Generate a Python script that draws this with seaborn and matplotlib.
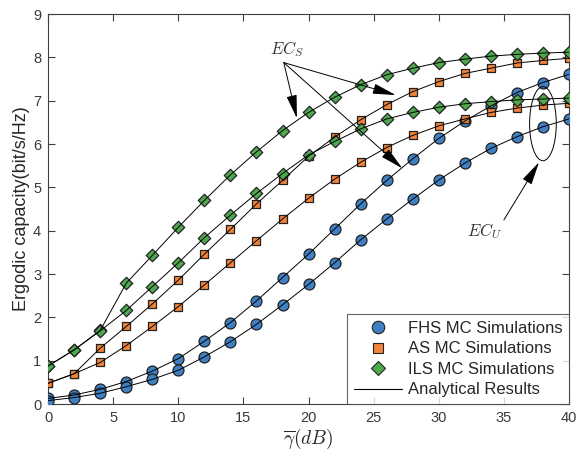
import numpy as np
import pandas as pd
import matplotlib
matplotlib.use("Agg")
import matplotlib.pyplot as plt
import seaborn as sns
from matplotlib.lines import Line2D
from matplotlib.patches import Ellipse

# --- data ---
snr_db = [0, 2, 4, 6, 8, 10, 12, 14, 16, 18, 20, 22, 24, 26, 28, 30, 32, 34, 36, 38, 40]

fhs_s = [0.13, 0.21, 0.34, 0.52, 0.76, 1.05, 1.45, 1.88, 2.38, 2.92, 3.46,
         4.04, 4.62, 5.16, 5.66, 6.13, 6.53, 6.88, 7.19, 7.42, 7.61]
fhs_u = [0.08, 0.15, 0.25, 0.40, 0.57, 0.78, 1.09, 1.44, 1.84, 2.29, 2.76,
         3.26, 3.79, 4.27, 4.73, 5.17, 5.56, 5.90, 6.17, 6.40, 6.58]
as_s = [0.48, 0.70, 1.29, 1.79, 2.31, 2.86, 3.46, 4.03, 4.62, 5.16, 5.72,
        6.16, 6.56, 6.91, 7.21, 7.44, 7.63, 7.75, 7.87, 7.93, 7.98]
as_u = [0.48, 0.70, 0.96, 1.35, 1.79, 2.25, 2.75, 3.26, 3.77, 4.27, 4.75,
        5.19, 5.58, 5.92, 6.20, 6.42, 6.58, 6.73, 6.83, 6.90, 6.94]
ils_s = [0.88, 1.25, 1.70, 2.79, 3.43, 4.08, 4.70, 5.29, 5.82, 6.31, 6.73,
         7.08, 7.37, 7.60, 7.75, 7.88, 7.96, 8.03, 8.07, 8.10, 8.12]
ils_u = [0.88, 1.25, 1.69, 2.16, 2.71, 3.26, 3.84, 4.36, 4.86, 5.32, 5.75,
         6.06, 6.35, 6.58, 6.73, 6.85, 6.93, 6.98, 7.02, 7.04, 7.06]

legend_labels = ["FHS MC Simulations", "AS MC Simulations", "ILS MC Simulations", "Analytical Results"]

# --- style ---
sns.set_style("white")
plt.rcParams["font.family"] = ["Liberation Sans", "DejaVu Sans"]
plt.rcParams["mathtext.fontset"] = "cm"

fig = plt.figure(figsize=(5.8, 4.54), dpi=100)
ax = fig.add_axes([0.083, 0.110, 0.898, 0.859])

blue, orange, green = "#3F80C4", "#F2843A", "#4FA94F"
edge = "#222222"

series = [
    (fhs_s, blue, "o", 62),
    (fhs_u, blue, "o", 62),
    (as_s, orange, "s", 36),
    (as_u, orange, "s", 36),
    (ils_s, green, "D", 40),
    (ils_u, green, "D", 40),
]

for vals, col, mk, sz in series:
    sns.scatterplot(x=snr_db, y=vals, marker=mk, s=sz, color=col,
                    edgecolor=edge, linewidth=0.9, ax=ax, zorder=3, legend=False)
    sns.lineplot(x=snr_db, y=vals, color="black", lw=0.7, ax=ax, zorder=4, legend=False)

ax.set_xlim(0, 40)
ax.set_ylim(0, 9)
ax.set_xticks(range(0, 41, 5))
ax.set_yticks(range(0, 10))
ax.tick_params(direction="in", bottom=True, left=True, top=True, right=True,
               length=5, width=0.8, labelsize=10.5, colors="#404040",
               labelcolor="#3a3a3a", pad=5)
for sp in ax.spines.values():
    sp.set_color("#404040")
    sp.set_linewidth(0.8)

ax.set_xlabel(r"$\overline{\gamma}(dB)$", fontsize=14, labelpad=1)
ax.set_ylabel("Ergodic capacity(bit/s/Hz)", fontsize=13, color="#262626", labelpad=2)

# --- annotations ---
ax.text(18.3, 8.2, r"$EC_S$", fontsize=12, color="#333333", ha="center", va="center")
arrow_kw = dict(arrowstyle="-|>,head_length=0.9,head_width=0.2", color="black",
                lw=0.7, mutation_scale=16, shrinkA=0, shrinkB=0)
for tip in [(19.1, 6.6), (26.7, 7.13), (27.2, 5.44)]:
    ax.annotate("", xy=tip, xytext=(18.1, 7.88), arrowprops=arrow_kw)

ax.add_patch(Ellipse((38.0, 6.47), 2.05, 1.71, fill=False, ec="black", lw=0.7, zorder=5))
ax.text(33.5, 4.0, r"$EC_U$", fontsize=12, color="#333333", ha="center", va="center")
ax.annotate("", xy=(37.7, 5.58), xytext=(35.0, 4.25), arrowprops=arrow_kw)

# --- legend ---
handles = [
    Line2D([], [], ls="none", marker="o", ms=9, mfc=blue, mec=edge, mew=0.8),
    Line2D([], [], ls="none", marker="s", ms=6.5, mfc=orange, mec=edge, mew=0.8),
    Line2D([], [], ls="none", marker="D", ms=7, mfc=green, mec=edge, mew=0.8),
    Line2D([], [], color="black", lw=0.8),
]
leg = ax.legend(handles, legend_labels, loc="lower right", fontsize=12,
                frameon=True, fancybox=False, borderaxespad=0, handlelength=2.9,
                handletextpad=0.35, labelspacing=0.33, borderpad=0.4)
leg.get_frame().set_edgecolor("#404040")
leg.get_frame().set_linewidth(0.8)
for t in leg.get_texts():
    t.set_color("#262626")

fig.savefig("out.png", dpi=100)
